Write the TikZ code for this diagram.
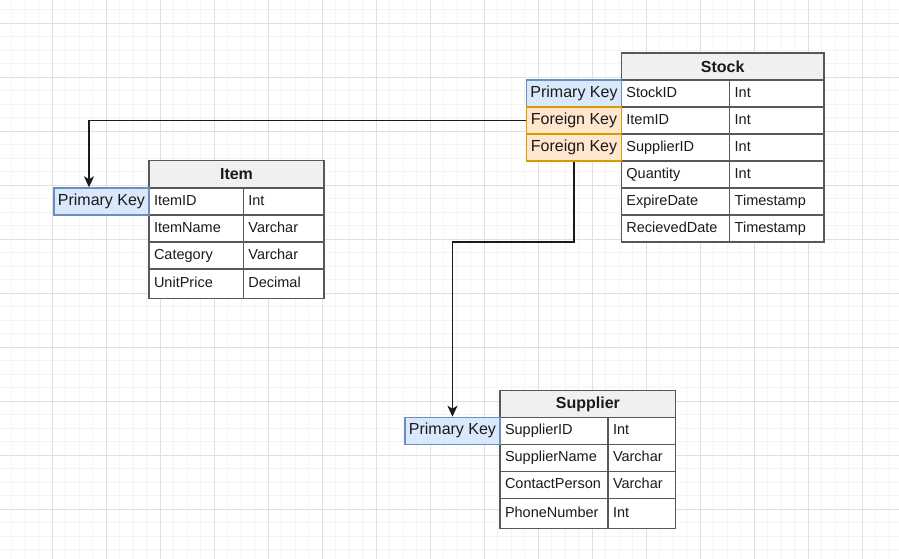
\documentclass[tikz,border=0pt]{standalone}
\usepackage{fontspec}
\setmainfont{Liberation Sans}
\usepackage{tikz}
\usetikzlibrary{arrows.meta,positioning,calc}
\definecolor{GridMinor}{RGB}{244,244,244}
\definecolor{GridMajor}{RGB}{224,224,224}
\definecolor{TableLine}{RGB}{88,88,88}
\definecolor{HeadFill}{RGB}{240,240,240}
\definecolor{PkFill}{RGB}{218,232,252}
\definecolor{PkLine}{RGB}{108,142,191}
\definecolor{FkFill}{RGB}{255,230,204}
\definecolor{FkLine}{RGB}{215,155,0}
\definecolor{InkDark}{RGB}{26,26,26}

\begin{document}
\begin{tikzpicture}[x=1pt,y=-1pt,
    hdr/.style={draw=TableLine, fill=HeadFill, line width=1.4pt, anchor=north west,
      minimum height=27pt, inner sep=0pt, text=InkDark,
      font=\fontsize{16}{19}\selectfont\bfseries},
    fld/.style={draw=TableLine, fill=white, line width=1.4pt, anchor=north west,
      minimum height=27pt, inner xsep=5pt, inner ysep=0pt, align=left,
      text width=#1, text height=11pt, text depth=3pt, text=InkDark,
      font=\fontsize{14.5}{17}\selectfont},
    keybox/.style={line width=1.3pt, anchor=north west, minimum width=94.7pt,
      minimum height=27pt, inner sep=0pt, text=InkDark,
      text height=11.5pt, text depth=3.5pt, font=\fontsize{16}{19}\selectfont},
    pk/.style={keybox, fill=PkFill, draw=PkLine},
    fk/.style={keybox, fill=FkFill, draw=FkLine},
    link/.style={InkDark, line width=1.4pt, -{Stealth[length=11pt,width=10pt,inset=3pt]}}]

  \useasboundingbox (0,0) rectangle (899,559);
  \fill[white] (0,0) rectangle (899,559);

  % background grid
  \begin{scope}
    \clip (0,0) rectangle (899,559);
    \foreach \k in {0,...,67}
      \draw[GridMinor, line width=0.8pt] ({\k*13.5-1.7},0) -- ({\k*13.5-1.7},559);
    \foreach \k in {0,...,42}
      \draw[GridMinor, line width=0.8pt] (0,{\k*13.5-3.7}) -- (899,{\k*13.5-3.7});
    \foreach \k in {0,...,17}
      \draw[GridMajor, line width=1pt] ({\k*54-1.7},0) -- ({\k*54-1.7},559);
    \foreach \k in {0,...,10}
      \draw[GridMajor, line width=1pt] (0,{\k*54+23.3}) -- (899,{\k*54+23.3});
  \end{scope}

  % Stock table
  \node[hdr, minimum width=202.6pt] (stock) at (620.7,52.3) {Stock};
  \node[fld=98.3pt] (stockid) at (620.7,79.3) {StockID};
  \node[fld=84.3pt] (stockidt) at (729,79.3) {Int};
  \node[fld=98.3pt] (stitem) at (620.7,106.3) {ItemID};
  \node[fld=84.3pt] (stitemt) at (729,106.3) {Int};
  \node[fld=98.3pt] (stsupp) at (620.7,133.3) {SupplierID};
  \node[fld=84.3pt] (stsuppt) at (729,133.3) {Int};
  \node[fld=98.3pt] (stqty) at (620.7,160.3) {Quantity};
  \node[fld=84.3pt] (stqtyt) at (729,160.3) {Int};
  \node[fld=98.3pt] (stexp) at (620.7,187.3) {ExpireDate};
  \node[fld=84.3pt] (stexpt) at (729,187.3) {Timestamp};
  \node[fld=98.3pt] (strec) at (620.7,214.3) {RecievedDate};
  \node[fld=84.3pt] (strect) at (729,214.3) {Timestamp};
  \node[pk] (spkey) at (526,79.3) {Primary Key};
  \node[fk] (fkitem) at (526,106.3) {Foreign Key};
  \node[fk] (fksupp) at (526,133.3) {Foreign Key};

  % Item table
  \node[hdr, minimum width=175pt] (item) at (148.3,160) {Item};
  \node[fld=84.4pt] (itid) at (148.3,187.3) {ItemID};
  \node[fld=70.6pt] (itidt) at (242.7,187.3) {Int};
  \node[fld=84.4pt] (itname) at (148.3,214.3) {ItemName};
  \node[fld=70.6pt] (itnamet) at (242.7,214.3) {Varchar};
  \node[fld=84.4pt] (itcat) at (148.3,241.3) {Category};
  \node[fld=70.6pt] (itcatt) at (242.7,241.3) {Varchar};
  \node[fld=84.4pt, minimum height=29.4pt] (itprice) at (148.3,268.3) {UnitPrice};
  \node[fld=70.6pt, minimum height=29.4pt] (itpricet) at (242.7,268.3) {Decimal};
  \node[pk, minimum width=95pt] (ipkey) at (53.3,187.3) {Primary Key};

  % Supplier table
  \node[hdr, minimum width=175.7pt, minimum height=26.7pt] (supplier) at (499.3,390) {Supplier};
  \node[fld=98pt] (suid) at (499.3,416.7) {SupplierID};
  \node[fld=57.7pt] (suidt) at (607.3,416.7) {Int};
  \node[fld=98pt] (suname) at (499.3,443.7) {SupplierName};
  \node[fld=57.7pt] (sunamet) at (607.3,443.7) {Varchar};
  \node[fld=98pt] (sucont) at (499.3,470.7) {ContactPerson};
  \node[fld=57.7pt] (sucontt) at (607.3,470.7) {Varchar};
  \node[fld=98pt, minimum height=30pt] (suphone) at (499.3,497.7) {PhoneNumber};
  \node[fld=57.7pt, minimum height=30pt] (suphonet) at (607.3,497.7) {Int};
  \node[pk, minimum width=95pt] (supkey) at (404.3,416.7) {Primary Key};

  % relations
  \draw[link] (fkitem.west) -| ([xshift=35.7pt]ipkey.north west);
  \draw[link] (fksupp.south) -- ++(0,80.5) -| (supkey.north);
\end{tikzpicture}
\end{document}
